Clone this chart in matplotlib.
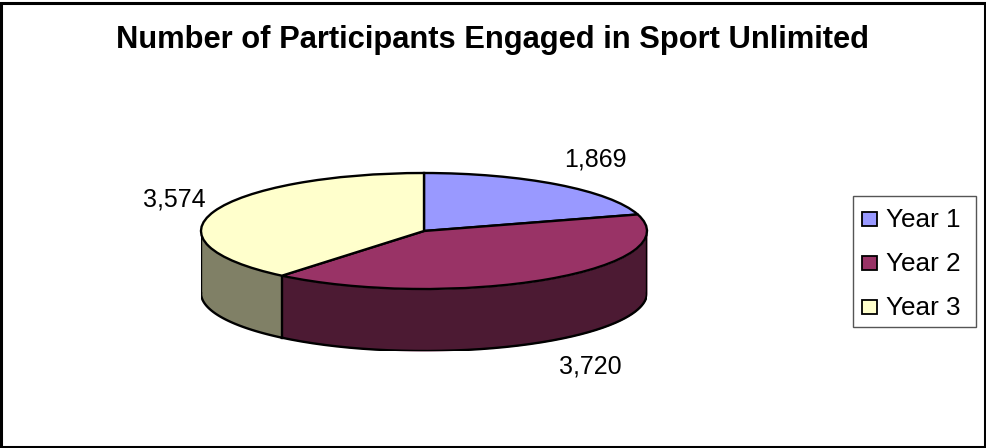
import numpy as np
import matplotlib
matplotlib.use("Agg")
import matplotlib.pyplot as plt
from matplotlib.patches import Rectangle

TITLE = "Number of Participants Engaged in Sport Unlimited"
labels = ["Year 1", "Year 2", "Year 3"]
values = [1869, 3720, 3574]
value_labels = ["1,869", "3,720", "3,574"]
top_colors = ["#9999FF", "#993366", "#FFFFCC"]
side_colors = ["#4C4C80", "#4C1A33", "#808066"]

W, H = 987, 448
DEPTH = 62 / 58  # wall height, in units of the squashed radius
EDGE = 1.7

plt.rcParams["font.family"] = ["Liberation Sans", "DejaVu Sans"]

fig = plt.figure(figsize=(W / 100, H / 100), dpi=100)
fig.add_artist(Rectangle((1 / W, 1 / H), 984 / W, 444 / H, transform=fig.transFigure,
                         fc="white", ec="black", lw=2.2, zorder=-5))

# axes placed so that the unit circle lands on the ellipse of the pie
ax = fig.add_axes([201 / W, 1 - 351 / H, 446 / W, 178 / H])

wedges, _ = ax.pie(values, colors=top_colors, startangle=90, counterclock=False, radius=1,
                   wedgeprops={"ec": "black", "lw": EDGE, "zorder": 5})
ax.set_aspect("auto")
ax.set_xlim(-1, 1)
ax.set_ylim(-1 - DEPTH, 1)
ax.axis("off")

# side wall, only the front half of the rim is visible
for w, col in zip(wedges, side_colors):
    a1, a2 = np.radians(w.theta1), np.radians(w.theta2)
    t = np.linspace(a1, a2, 300)
    t = t[np.sin(t) <= 0]
    if len(t) < 2:
        continue
    xs, ys = np.cos(t), np.sin(t)
    ax.fill_between(xs, ys - DEPTH, ys, color=col, lw=0, zorder=2)
    ax.plot(xs, ys - DEPTH, color="black", lw=EDGE, zorder=3)

# vertical edges of the wall: both rim ends and the visible slice boundary
ax.plot([-1, -1], [0, -DEPTH], color="black", lw=EDGE, zorder=3)
ax.plot([1, 1], [0, -DEPTH], color="black", lw=EDGE, zorder=3)
boundary = np.radians(wedges[1].theta1)
ax.plot([np.cos(boundary)] * 2, [np.sin(boundary), np.sin(boundary) - DEPTH],
        color="black", lw=EDGE, zorder=3)

# value labels
label_px = [(595, 159), (590, 366), (174, 200)]
for txt, (px, py) in zip(value_labels, label_px):
    fig.text(px / W, 1 - py / H, txt, ha="center", va="center", fontsize=18)

fig.text(493 / W, 1 - 40 / H, TITLE, ha="center", va="center", fontsize=22.2, fontweight="bold")

# legend
fig.add_artist(Rectangle((853 / W, 1 - 327 / H), 123 / W, 131 / H, transform=fig.transFigure,
                         fc="white", ec="#555555", lw=1.0, zorder=6))
for name, col, py in zip(labels, top_colors, [219, 263, 307]):
    fig.add_artist(Rectangle((862 / W, 1 - (py + 7) / H), 15 / W, 14 / H, transform=fig.transFigure,
                             fc=col, ec="black", lw=1.3, zorder=7))
    fig.text(886 / W, 1 - (py + 1) / H, name, ha="left", va="center", fontsize=18.8, zorder=7)

fig.savefig("out.png", dpi=100)
